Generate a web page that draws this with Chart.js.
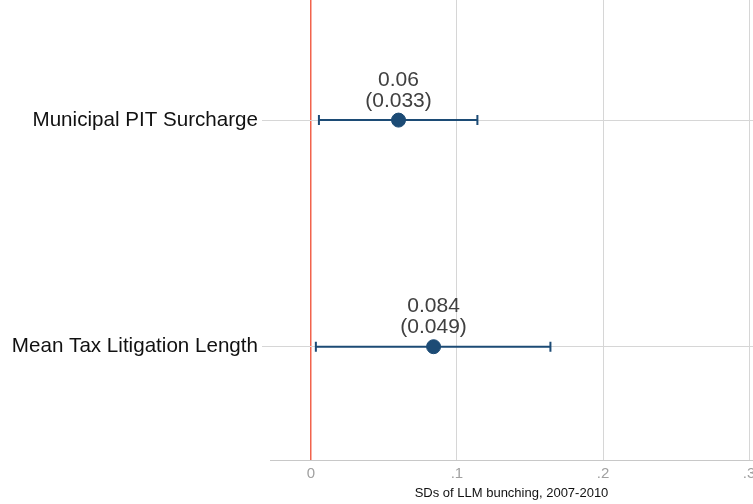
<!DOCTYPE html>
<html>
<head>
<meta charset="utf-8">
<script src="https://cdn.jsdelivr.net/npm/chart.js@4"></script>
<style>
  html, body { margin: 0; padding: 0; background: #fff; }
  #wrap { width: 753px; height: 504px; position: relative; }
</style>
</head>
<body>
<div id="wrap"><canvas id="coefChart"></canvas></div>
<script>
// coefficient plot, 90% intervals
var categories = ["Municipal PIT Surcharge", "Mean Tax Litigation Length"];
var estimates = [0.06, 0.084];
var stdErrors = [0.033, 0.049];
var ciLow = [0.0055, 0.0034];
var ciHigh = [0.114, 0.164];
var xTickValues = [0, 0.1, 0.2, 0.3];
var xTickLabels = ["0", ".1", ".2", ".3"];

var navy = "#1c4b75";
var font = "'Liberation Sans', Arial, sans-serif";

var errorBars = {
  id: "errorBars",
  beforeDatasetsDraw: function (chart) {
    var ctx = chart.ctx;
    var xs = chart.scales.x, ys = chart.scales.y;
    ctx.save();
    ctx.strokeStyle = navy;
    ctx.lineWidth = 2;
    categories.forEach(function (c, i) {
      var y = ys.getPixelForValue(i + 1);
      var x0 = xs.getPixelForValue(ciLow[i]);
      var x1 = xs.getPixelForValue(ciHigh[i]);
      ctx.beginPath();
      ctx.moveTo(x0, y); ctx.lineTo(x1, y);
      ctx.moveTo(x0, y - 5); ctx.lineTo(x0, y + 5);
      ctx.moveTo(x1, y - 5); ctx.lineTo(x1, y + 5);
      ctx.stroke();
    });
    ctx.restore();
  },
  afterDatasetsDraw: function (chart) {
    var ctx = chart.ctx;
    var xs = chart.scales.x, ys = chart.scales.y;
    ctx.save();
    ctx.font = "21px " + font;
    ctx.fillStyle = "#404040";
    ctx.textAlign = "center";
    ctx.textBaseline = "middle";
    categories.forEach(function (c, i) {
      var x = xs.getPixelForValue(estimates[i]);
      var y = ys.getPixelForValue(i + 1);
      ctx.fillText(String(estimates[i]), x, y - 40);
      ctx.fillText("(" + stdErrors[i] + ")", x, y - 19);
    });
    ctx.restore();
  },
};

new Chart(document.getElementById("coefChart"), {
  type: "scatter",
  plugins: [errorBars],
  data: {
    datasets: [
      {
        data: estimates.map(function (v, i) { return { x: v, y: i + 1 }; }),
        backgroundColor: navy,
        borderColor: navy,
        pointRadius: 7,
        pointHoverRadius: 7,
      },
    ],
  },
  options: {
    responsive: true,
    maintainAspectRatio: false,
    animation: false,
    layout: { padding: 0, autoPadding: false },
    plugins: { legend: { display: false }, tooltip: { enabled: false } },
    scales: {
      x: {
        type: "linear",
        min: -0.028,
        max: 0.3027,
        afterBuildTicks: function (s) {
          s.ticks = xTickValues.map(function (v) { return { value: v }; });
        },
        afterFit: function (s) {
          s.height = 44;
          s.paddingLeft = 0;
          s.paddingRight = 0;
        },
        ticks: {
          color: "#a0a0a0",
          font: { family: font, size: 15 },
          padding: 5,
          maxRotation: 0,
          callback: function (v) {
            var i = xTickValues.indexOf(v);
            return i >= 0 ? xTickLabels[i] : "";
          },
        },
        grid: {
          drawTicks: false,
          lineWidth: function (c) { return c.tick && c.tick.value === 0 ? 1.5 : 1; },
          color: function (c) { return c.tick && c.tick.value === 0 ? "#f2634c" : "#d6d6d6"; },
        },
        border: { display: true, color: "#c8c8c8", width: 1 },
        title: {
          display: true,
          text: "SDs of LLM bunching, 2007-2010",
          color: "#111",
          font: { family: font, size: 13 },
          padding: { top: 0, bottom: 3 },
        },
      },
      y: {
        type: "linear",
        reverse: true,
        min: 0.47,
        max: 2.5,
        afterBuildTicks: function (s) {
          s.ticks = categories.map(function (c, i) { return { value: i + 1 }; });
        },
        afterFit: function (s) {
          s.width = 270;
          s.paddingTop = 0;
          s.paddingBottom = 0;
        },
        ticks: {
          color: "#111",
          font: { family: font, size: 20.6 },
          padding: 4,
          callback: function (v) { return categories[v - 1] || ""; },
        },
        grid: { color: "#d6d6d6", tickColor: "#d6d6d6", tickLength: 8 },
        border: { display: false },
      },
    },
  },
});
</script>
</body>
</html>
